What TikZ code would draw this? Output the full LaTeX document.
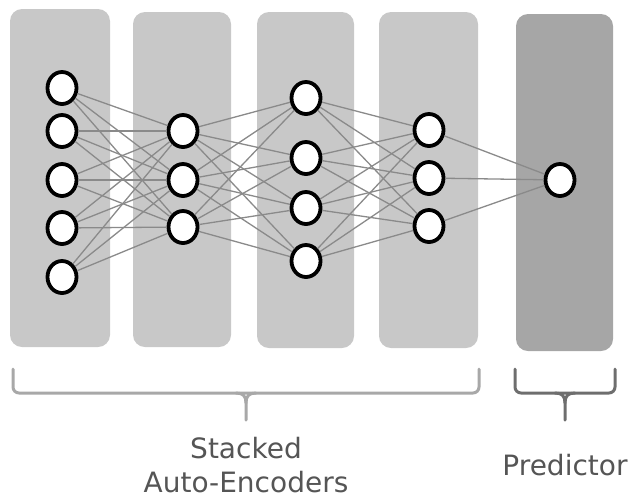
\documentclass[tikz,border=0pt]{standalone}
\usepackage{fontspec}
\setmainfont{DejaVu Sans}
\usetikzlibrary{shapes.geometric}
\definecolor{panellight}{HTML}{C8C8C8}
\definecolor{paneldark}{HTML}{A6A6A6}
\definecolor{edgegray}{HTML}{8A8A8A}
\definecolor{bracelight}{HTML}{A8A8A8}
\definecolor{bracedark}{HTML}{6E6E6E}
\definecolor{labelgray}{HTML}{555555}
\tikzset{
  panel/.style={fill=#1, draw=none, rounded corners=12pt},
  neuron/.style={ellipse, draw=black, line width=3.8pt, fill=white,
    minimum width=29pt, minimum height=32pt, inner sep=0pt},
  link/.style={draw=edgegray, line width=1.3pt},
  brace/.style={draw=#1, line width=3pt, line cap=round, line join=round},
  caption/.style={text=labelgray, font=\fontsize{28}{36}\selectfont, anchor=base, inner sep=0pt}
}
\begin{document}
\begin{tikzpicture}[x=1pt,y=-1pt]
\useasboundingbox (0,0) rectangle (634,499);

% layer panels
\fill[panel=panellight] (10,9) rectangle (110,347);
\fill[panel=panellight] (133,12) rectangle (231,347);
\fill[panel=panellight] (257,12) rectangle (354,348);
\fill[panel=panellight] (379,12) rectangle (478,348);
\fill[panel=paneldark] (516,14) rectangle (613,351);

% neurons
\foreach \y [count=\i] in {88,131,180,228,277} \node[neuron] (a\i) at (62,\y) {};
\foreach \y [count=\i] in {131,180,227} \node[neuron] (b\i) at (183,\y) {};
\foreach \y [count=\i] in {98,158,208,261} \node[neuron] (c\i) at (306,\y) {};
\foreach \y [count=\i] in {130,178,226} \node[neuron] (d\i) at (429,\y) {};
\node[neuron] (o) at (560,180) {};

% fully connected links between consecutive layers
\foreach \i in {1,...,5} \foreach \j in {1,2,3} \draw[link] (a\i) -- (b\j);
\foreach \i in {1,2,3} \foreach \j in {1,...,4} \draw[link] (b\i) -- (c\j);
\foreach \i in {1,...,4} \foreach \j in {1,2,3} \draw[link] (c\i) -- (d\j);
\foreach \i in {1,2,3} \draw[link] (d\i) -- (o);

% braces
\coordinate (sl) at (13,369);
\coordinate (sr) at (479,369);
\coordinate (st) at (246,420);
\draw[brace=bracelight, rounded corners=6pt] (sl) -- (13,393) -- (479,393) -- (sr);
\draw[brace=bracelight] (236,393) .. controls (243,393) and (246,396) .. (246,403) -- (st);
\draw[brace=bracelight] (256,393) .. controls (249,393) and (246,396) .. (246,403);
\coordinate (pl) at (515,369);
\coordinate (pr) at (615,369);
\coordinate (pt) at (565,420);
\draw[brace=bracedark, rounded corners=6pt] (pl) -- (515,393) -- (615,393) -- (pr);
\draw[brace=bracedark] (555,393) .. controls (562,393) and (565,396) .. (565,403) -- (pt);
\draw[brace=bracedark] (575,393) .. controls (568,393) and (565,396) .. (565,403);

% captions
\node[caption] (cap1) at (246,458) {Stacked};
\node[caption] (cap2) at (246,492) {Auto-Encoders};
\node[caption] (cap3) at (565,475) {Predictor};
\end{tikzpicture}
\end{document}
